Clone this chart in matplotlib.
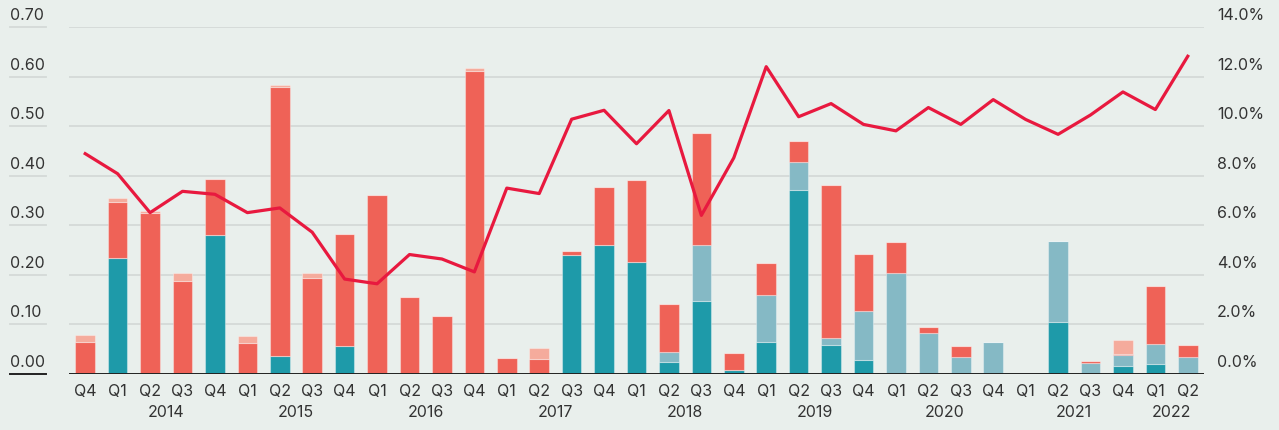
import matplotlib
matplotlib.use('Agg')
import numpy as np
import matplotlib.pyplot as plt
import matplotlib.transforms as mtransforms

# quarters from Q4 2013 to Q2 2022
quarters = ['Q4'] + ['Q1', 'Q2', 'Q3', 'Q4'] * 8 + ['Q1', 'Q2']
years = ['2014', '2015', '2016', '2017', '2018', '2019', '2020', '2021', '2022']
year_pos = [2.5, 6.5, 10.5, 14.5, 18.5, 22.5, 26.5, 30.5, 33.5]

dark_teal = [0, 0.234, 0, 0, 0.280, 0, 0.036, 0, 0.056, 0, 0, 0, 0, 0, 0,
             0.240, 0.260, 0.226, 0.025, 0.147, 0.009, 0.065, 0.372, 0.058,
             0.028, 0, 0, 0, 0, 0, 0.105, 0, 0.016, 0.021, 0]
light_teal = [0, 0, 0, 0, 0, 0, 0, 0, 0, 0, 0, 0, 0, 0, 0, 0, 0, 0,
              0.020, 0.113, 0, 0.094, 0.055, 0.014, 0.100, 0.204, 0.083,
              0.034, 0.065, 0.003, 0.163, 0.023, 0.023, 0.040, 0.034]
coral = [0.064, 0.113, 0.325, 0.188, 0.113, 0.062, 0.543, 0.193, 0.227,
         0.362, 0.155, 0.118, 0.612, 0.032, 0.030, 0.008, 0.117, 0.166,
         0.097, 0.226, 0.034, 0.065, 0.044, 0.309, 0.114, 0.063, 0.011,
         0.022, 0, 0, 0, 0.003, 0.002, 0.116, 0.024]
salmon = [0.014, 0.009, 0.003, 0.016, 0, 0.014, 0.004, 0.011, 0, 0, 0, 0,
          0.005, 0, 0.022, 0, 0, 0, 0, 0, 0, 0, 0, 0, 0, 0, 0, 0, 0, 0, 0,
          0.001, 0.028, 0, 0]
line_pct = [8.89, 8.08, 6.51, 7.37, 7.25, 6.51, 6.70, 5.72, 3.83, 3.64,
            4.82, 4.64, 4.12, 7.50, 7.28, 10.28, 10.64, 9.29, 10.63, 6.40,
            8.72, 12.40, 10.38, 10.91, 10.07, 9.81, 10.75, 10.07, 11.07,
            10.27, 9.67, 10.45, 11.38, 10.67, 12.82]

BG = '#e9efec'
GRID = '#d4d9d7'


def main():
    plt.rcParams['font.family'] = ['Inter', 'DejaVu Sans']
    fig = plt.figure(figsize=(12.79, 4.30), dpi=100, facecolor=BG)
    ax = fig.add_axes([69 / 1279, 1 - 374 / 430, (1204 - 69) / 1279, (374 - 27) / 430])
    ax.set_facecolor(BG)

    x = np.arange(len(quarters))
    w = 0.6
    edge = (1, 1, 1, 0.35)
    bottom = np.zeros(len(x))
    for vals, col in [(dark_teal, '#1e9aa9'), (light_teal, '#85b9c5'),
                      (coral, '#ef6257'), (salmon, '#f5ab9c')]:
        v = np.array(vals)
        ax.bar(x, v, w, bottom=bottom, color=col, edgecolor=edge, linewidth=0.8, zorder=2)
        bottom = bottom + v

    ax.set_xlim(-0.5, 34.5)
    ax.set_ylim(0, 0.70)
    ax.set_axisbelow(True)
    for s in ax.spines.values():
        s.set_visible(False)
    yt = np.arange(0, 0.71, 0.1)
    ax.set_yticks(yt)
    ax.set_yticklabels([])
    ax.tick_params(axis='y', length=0)
    ax.grid(axis='y', color=GRID, linewidth=1.3)
    ax.axhline(0, color='#222222', linewidth=1.4, zorder=3)

    ax.set_xticks(x)
    ax.set_xticklabels(quarters, fontsize=11.5, color='#333333')
    ax.tick_params(axis='x', length=0, pad=7)
    for yp, yr in zip(year_pos, years):
        ax.text(yp, -0.077, yr, ha='center', va='center', fontsize=11.5, color='#333333')

    # left labels sit on short rules
    trans = mtransforms.blended_transform_factory(fig.transFigure, ax.transData)
    for t in yt:
        ax.text(10 / 1279, t + 0.008, '%.2f' % t, transform=trans, ha='left', va='bottom',
                fontsize=11.5, color='#333333')
        ax.plot([10 / 1279, 46 / 1279], [t, t], transform=trans, clip_on=False,
                color='#222222' if t == 0 else GRID, linewidth=1.4 if t == 0 else 1.3)

    ax2 = ax.twinx()
    ax2.set_ylim(0, 14)
    ax2.patch.set_visible(False)
    for s in ax2.spines.values():
        s.set_visible(False)
    ax2.set_yticks([])
    ax2.plot(x, line_pct, color='#e8193f', linewidth=2.3, zorder=4)
    trans2 = mtransforms.blended_transform_factory(fig.transFigure, ax2.transData)
    for p in range(0, 15, 2):
        ax2.text(1217 / 1279, p + 0.16, '%.1f%%' % p, transform=trans2, ha='left', va='bottom',
                 fontsize=11.5, color='#333333')

    fig.savefig('out.png', dpi=100, facecolor=BG)


if __name__ == '__main__': main()
